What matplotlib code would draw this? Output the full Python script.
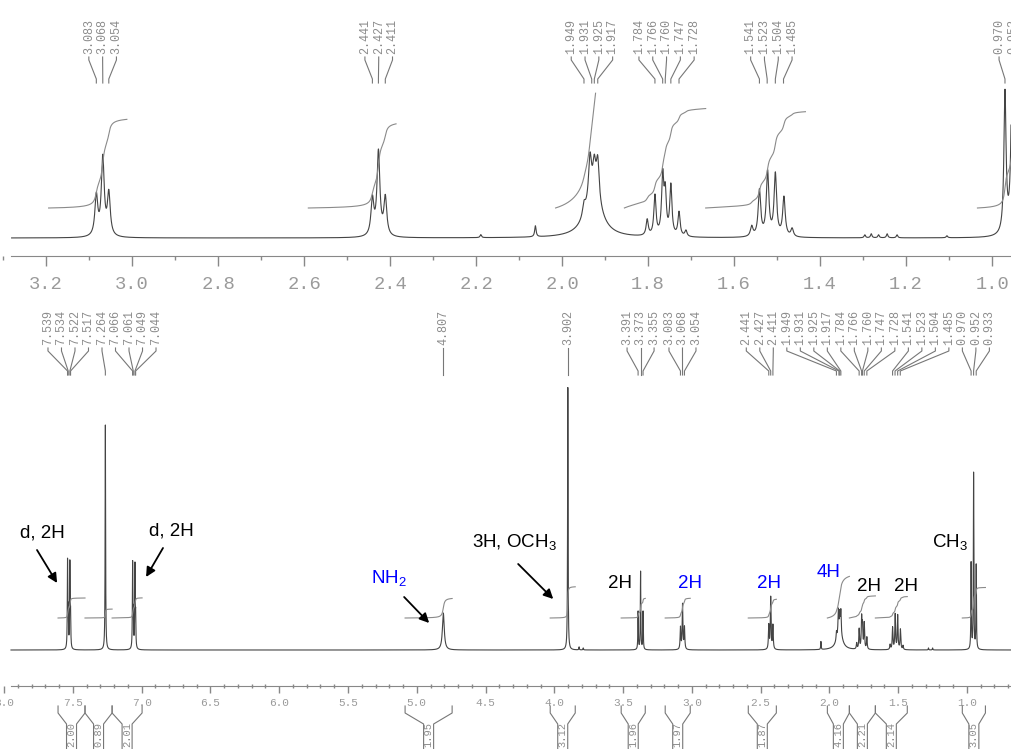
import numpy as np
import matplotlib
matplotlib.use('Agg')
import matplotlib.pyplot as plt
from matplotlib.ticker import MultipleLocator, FormatStrFormatter
from matplotlib.transforms import blended_transform_factory

plt.rcParams['font.family'] = ['Liberation Sans', 'DejaVu Sans']
plt.rcParams['mathtext.default'] = 'regular'

# ---------------- data ----------------
# expansion 3.3 - 0.95 ppm (top trace): line position, height, half width
exp_ppm = [3.083, 3.068, 3.054,
           2.441, 2.427, 2.411,
           1.949, 1.935, 1.925, 1.917, 1.927,
           1.802, 1.784, 1.766, 1.760, 1.747, 1.728, 1.712,
           1.559, 1.541, 1.522, 1.504, 1.484, 1.465,
           0.970, 0.952, 0.933,
           2.189, 2.062, 1.296, 1.281, 1.264, 1.244, 1.221, 1.105]
exp_height = [40, 78, 42,
              36, 84, 38,
              12, 42, 28, 40, 42,
              16, 40, 58, 40, 50, 24, 6,
              10, 46, 64, 62, 39, 8,
              140, 290, 140,
              3, 11, 3, 4, 3, 4, 3, 2]
exp_width = [0.004] * 6 + [0.004] * 4 + [0.022] + [0.003] * 7 + [0.0035] * 6 \
    + [0.003] * 3 + [0.002] * 8

# full spectrum 8.0 - 0.7 ppm (bottom trace)
full_ppm = [7.539, 7.534, 7.522, 7.517,
            7.264,
            7.066, 7.061, 7.049, 7.044,
            4.807, 3.902,
            3.391, 3.373, 3.355,
            3.083, 3.068, 3.054,
            2.441, 2.427, 2.411,
            1.949, 1.935, 1.925, 1.917, 1.927,
            1.802, 1.784, 1.766, 1.760, 1.747, 1.728,
            1.559, 1.541, 1.522, 1.504, 1.484, 1.465,
            0.970, 0.952, 0.933,
            2.062, 3.82, 3.79, 1.28, 1.25]
full_height = [86, 33, 84, 31,
               225,
               84, 31, 82, 30,
               37, 263,
               38, 78, 38,
               22, 45, 22,
               24, 52, 24,
               8, 22, 16, 22, 20,
               6, 20, 30, 22, 26, 12,
               5, 22, 35, 34, 20, 4,
               86, 176, 84,
               8, 3, 2, 2, 2]
full_width = [0.002] * 9 + [0.008, 0.002] + [0.002] * 3 + [0.003] * 6 \
    + [0.003] * 4 + [0.022] + [0.003] * 12 + [0.002] * 3 + [0.002] * 5

# peak picking labels
exp_labels = [3.083, 3.068, 3.054, 2.441, 2.427, 2.411,
              1.949, 1.931, 1.925, 1.917,
              1.784, 1.766, 1.760, 1.747, 1.728,
              1.541, 1.523, 1.504, 1.485,
              0.970, 0.952, 0.933]
full_labels = [7.539, 7.534, 7.522, 7.517, 7.264,
               7.066, 7.061, 7.049, 7.044,
               4.807, 3.902,
               3.391, 3.373, 3.355, 3.083, 3.068, 3.054,
               2.441, 2.427, 2.411,
               1.949, 1.931, 1.925, 1.917,
               1.784, 1.766, 1.760, 1.747, 1.728,
               1.541, 1.523, 1.504, 1.485,
               0.970, 0.952, 0.933]

# integrals
int_left = [7.608, 7.412, 7.215, 5.085, 4.030, 3.514, 3.194, 2.590, 2.015, 1.855, 1.666, 1.034]
int_right = [7.412, 7.215, 6.997, 4.743, 3.848, 3.339, 3.012, 2.386, 1.855, 1.666, 1.434, 0.866]
int_value = [2.00, 0.89, 2.01, 1.95, 3.12, 1.96, 1.97, 1.87, 4.16, 2.21, 2.14, 3.05]

# assignments
ann_text = ['d, 2H', 'd, 2H', 'NH$_2$', '3H, OCH$_3$', '2H', '2H', '2H', '4H', '2H', '2H', 'CH$_3$']
ann_color = ['k', 'k', 'b', 'k', 'k', 'b', 'b', 'b', 'k', 'k', 'k']
ann_ppm = [7.725, 6.786, 5.201, 4.292, 3.521, 3.012, 2.437, 2.008, 1.710, 1.441, 1.121]
ann_y = [113, 115, 67, 103, 62, 62, 62, 73, 59, 59, 103]
arrow_from = [(7.761, 100), (6.845, 102), (5.092, 53), (4.263, 86)]
arrow_to = [(7.615, 67), (6.968, 73), (4.910, 27), (4.008, 51)]

GRAY = '#444444'
LIGHT = '#8a8a8a'


def spectrum(x, ppm, height, width):
    y = np.zeros_like(x)
    for p, h, w in zip(ppm, height, width):
        y += h * w ** 2 / ((x - p) ** 2 + w ** 2)
    return y


def spread(vals, gap):
    groups = [[v] for v in sorted(vals, reverse=True)]
    while True:
        pos = []
        for g in groups:
            c = np.mean(g)
            n = len(g)
            pos.append([c + gap * ((n - 1) / 2 - i) for i in range(n)])
        merged = False
        for i in range(len(groups) - 1):
            if pos[i][-1] - pos[i + 1][0] < gap:
                groups[i] = groups[i] + groups.pop(i + 1)
                merged = True
                break
        if not merged:
            return [p for ps in pos for p in ps]


def peak_labels(ax, vals, gap, y_text, y_top, y_bot):
    vals = sorted(vals, reverse=True)
    xs = spread(vals, gap)
    for v, lx in zip(vals, xs):
        ax.text(lx, y_text, f'{v:.3f}', rotation=90, ha='center', va='bottom',
                family='Liberation Mono', fontsize=8.5, color='#8c8c8c', clip_on=False)
        ax.plot([lx, lx, v, v], [y_top, y_top - 3, y_bot + 4, y_bot],
                color='#777777', lw=0.8, clip_on=False)


def integrals(ax, ppm, height, width, per_h, base, clip, xmin, xmax):
    for a, b, val in zip(int_left, int_right, int_value):
        if b > xmax or a < xmin:
            continue
        xi = np.linspace(a, b, 800)
        yi = spectrum(xi, ppm, height, width)
        cum = np.cumsum(yi)
        cum = base + cum / cum[-1] * val * per_h
        cum[cum > clip] = np.nan
        ax.plot(xi, cum, color=LIGHT, lw=0.8)


def style_axis(ax, lo, hi, major, minor, size, pad, fmt):
    for s in ['left', 'right', 'top']:
        ax.spines[s].set_visible(False)
    ax.spines['bottom'].set_bounds(lo, hi)
    ax.spines['bottom'].set_color('#888888')
    ax.set_yticks([])
    ax.xaxis.set_major_locator(MultipleLocator(major))
    ax.xaxis.set_minor_locator(MultipleLocator(minor))
    ax.xaxis.set_major_formatter(FormatStrFormatter(fmt))
    ax.tick_params(axis='x', which='major', length=7, width=1, color='#888888',
                   labelsize=size, labelcolor='#9a9a9a', pad=pad)
    ax.tick_params(axis='x', which='minor', length=3, width=1, color='#888888')
    for t in ax.get_xticklabels():
        t.set_family('Liberation Mono')
    ax.patch.set_alpha(0)


fig = plt.figure(figsize=(10.11, 7.49), dpi=100)
PH = 749.0

# ---------------- top: expansion ----------------
ax_t = fig.add_axes([0, 1 - 256 / PH, 1, 256 / PH])
ax_t.set_xlim(3.307, 0.956)
ax_t.set_ylim(-18, 238)
xt = np.linspace(3.28, 0.956, 14000)
ax_t.plot(xt, spectrum(xt, exp_ppm, exp_height, exp_width), color=GRAY, lw=0.8)
integrals(ax_t, exp_ppm, exp_height, exp_width, 45, 30, 145, 0.956, 3.307)
peak_labels(ax_t, exp_labels, 13.8 / 430, 184, 181, 155)
style_axis(ax_t, 3.281, 0.956, 0.2, 0.1, 13.5, 7.5, '%.1f')

# ---------------- bottom: full spectrum ----------------
ax_b = fig.add_axes([0, 1 - 686 / PH, 1, (686 - 290) / PH])
ax_b.set_xlim(8.03, 0.68)
ax_b.set_ylim(-36, 360)
xb = np.linspace(7.95, 0.68, 36000)
ax_b.plot(xb, spectrum(xb, full_ppm, full_height, full_width), color=GRAY, lw=0.8)
integrals(ax_b, full_ppm, full_height, full_width, 10, 32, 400, 0.68, 8.03)
peak_labels(ax_b, full_labels, 13.5 / 137.5, 305, 302, 275)
style_axis(ax_b, 7.95, 0.68, 0.5, 0.1, 8, 3.5, '%.1f')
ax_b.tick_params(axis='x', which='major', length=5)
ax_b.tick_params(axis='x', which='minor', length=3, direction='inout')

# integral brackets below the axis
tr = blended_transform_factory(ax_b.transData, fig.transFigure)
for a, b, val in zip(int_left, int_right, int_value):
    c = (a + b) / 2
    d = 5 / 137.5
    for end, inner in [(a, c + d), (b, c - d)]:
        ax_b.plot([end, end, inner, inner],
                  [1 - 706 / PH, 1 - 713 / PH, 1 - 724 / PH, 1 - 760 / PH],
                  color='#777777', lw=0.8, transform=tr, clip_on=False)
    ax_b.text(c, 1 - 722 / PH, f'{val:.2f}', rotation=90, ha='center', va='top',
              family='Liberation Mono', fontsize=7.5, color='#8c8c8c',
              transform=tr, clip_on=False)

# assignments
for s, col, xp, yp in zip(ann_text, ann_color, ann_ppm, ann_y):
    ax_b.text(xp, yp, s, ha='center', va='baseline', fontsize=13.5,
              color='#0000ff' if col == 'b' else 'black')
for (x0, y0), (x1, y1) in zip(arrow_from, arrow_to):
    ax_b.annotate('', xy=(x1, y1), xytext=(x0, y0),
                  arrowprops=dict(arrowstyle='-|>', color='black', lw=1.3,
                                  mutation_scale=14, shrinkA=0, shrinkB=0))

fig.savefig('out.png', dpi=100, facecolor='white')
